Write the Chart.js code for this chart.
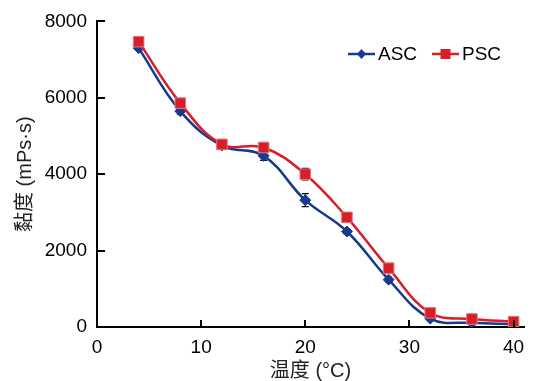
<!DOCTYPE html>
<html>
<head>
<meta charset="utf-8">
<script src="https://cdn.jsdelivr.net/npm/chart.js@4"></script>
<style>
  html, body { margin: 0; padding: 0; background: #fff; }
  #wrap { width: 534px; height: 381px; }
</style>
</head>
<body>
<div id="wrap"><canvas id="viscChart"></canvas></div>
<script>
// temperature (°C)
const temps = [4, 8, 12, 16, 20, 24, 28, 32, 36, 40];
// viscosity (mPs·s)
const ascValues = [7300, 5650, 4750, 4480, 3320, 2500, 1240, 220, 110, 80];
const pscValues = [7470, 5860, 4780, 4700, 4000, 2870, 1540, 370, 210, 140];
const ascErrors = [60, 80, 60, 120, 170, 60, 60, 40, 30, 20];
const pscErrors = [60, 80, 60, 80, 150, 60, 80, 40, 30, 20];
const xTicks = [0, 10, 20, 30, 40];
const yTicks = [0, 2000, 4000, 6000, 8000];
const seriesNames = ['ASC', 'PSC'];

const BLUE = '#173a8e';
const RED = '#d81e26';
const FONT = "'Liberation Sans', Arial, 'Noto Sans CJK SC', sans-serif";

function points(vals) {
    return temps.map((t, i) => ({ x: t, y: vals[i] }));
}

// error bars, drawn under the markers
const errorBars = {
    id: 'errorBars',
    beforeDatasetsDraw(chart) {
        const ctx = chart.ctx;
        const xs = chart.scales.x, ys = chart.scales.y;
        const sets = [[ascValues, ascErrors], [pscValues, pscErrors]];
        ctx.save();
        ctx.strokeStyle = '#000';
        ctx.lineWidth = 1.2;
        sets.forEach(([vals, errs]) => {
            vals.forEach((v, i) => {
                const px = xs.getPixelForValue(temps[i]);
                const top = ys.getPixelForValue(v + errs[i]);
                const bot = ys.getPixelForValue(v - errs[i]);
                ctx.beginPath();
                ctx.moveTo(px, top); ctx.lineTo(px, bot);
                ctx.moveTo(px - 3.5, top); ctx.lineTo(px + 3.5, top);
                ctx.moveTo(px - 3.5, bot); ctx.lineTo(px + 3.5, bot);
                ctx.stroke();
            });
        });
        ctx.restore();
    }
};

// tick marks pointing into the plot
const innerTicks = {
    id: 'innerTicks',
    afterDraw(chart) {
        const ctx = chart.ctx;
        const a = chart.chartArea;
        const xs = chart.scales.x, ys = chart.scales.y;
        ctx.save();
        ctx.strokeStyle = '#000';
        ctx.lineWidth = 2;
        ctx.beginPath();
        xTicks.slice(1).forEach(v => {
            const px = Math.round(xs.getPixelForValue(v));
            ctx.moveTo(px, a.bottom); ctx.lineTo(px, a.bottom - 7);
        });
        yTicks.slice(1).forEach(v => {
            const py = Math.round(ys.getPixelForValue(v));
            ctx.moveTo(a.left, py); ctx.lineTo(a.left + 8, py);
        });
        ctx.stroke();
        ctx.restore();
    }
};

// legend: line + marker + name, inside the plot, top right
const lineLegend = {
    id: 'lineLegend',
    afterDraw(chart) {
        const ctx = chart.ctx;
        const items = [
            { x: 348, color: BLUE, style: 'diamond', name: seriesNames[0] },
            { x: 432, color: RED, style: 'square', name: seriesNames[1] }
        ];
        const y = 54;
        ctx.save();
        items.forEach(it => {
            ctx.strokeStyle = it.color;
            ctx.lineWidth = 2.5;
            ctx.beginPath();
            ctx.moveTo(it.x, y); ctx.lineTo(it.x + 27, y);
            ctx.stroke();
            const cx = it.x + 13.5;
            ctx.fillStyle = it.color;
            ctx.beginPath();
            if (it.style === 'diamond') {
                ctx.moveTo(cx - 4.5, y); ctx.lineTo(cx, y - 5);
                ctx.lineTo(cx + 4.5, y); ctx.lineTo(cx, y + 5);
                ctx.closePath();
            } else {
                ctx.rect(cx - 5, y - 5, 10, 10);
            }
            ctx.fill();
            ctx.fillStyle = '#000';
            ctx.font = '19px ' + FONT;
            ctx.textBaseline = 'middle';
            ctx.fillText(it.name, it.x + 30, y + 1);
        });
        ctx.restore();
    }
};

const ctxVisc = document.getElementById('viscChart').getContext('2d');

new Chart(ctxVisc, {
    type: 'line',
    data: {
        datasets: [{
            label: seriesNames[0],
            data: points(ascValues),
            borderColor: BLUE,
            backgroundColor: BLUE,
            borderWidth: 2.5,
            pointStyle: 'rectRot',
            pointRadius: 5.5,
            pointBorderWidth: 1,
            pointBorderColor: BLUE,
            tension: 0.4,
            order: 1
        }, {
            label: seriesNames[1],
            data: points(pscValues),
            borderColor: RED,
            backgroundColor: RED,
            borderWidth: 2.5,
            pointStyle: 'rect',
            pointRadius: 7.5,
            pointBorderWidth: 1,
            pointBorderColor: '#e07a82',
            tension: 0.4,
            order: 0
        }]
    },
    options: {
        responsive: true,
        maintainAspectRatio: false,
        animation: false,
        layout: { padding: { left: 0, right: 10, top: 17, bottom: 0 } },
        plugins: {
            legend: { display: false },
            tooltip: { enabled: false }
        },
        scales: {
            x: {
                type: 'linear',
                min: 0,
                max: 41,
                afterBuildTicks: s => { s.ticks = xTicks.map(v => ({ value: v })); },
                afterFit: s => { s.height = 54; },
                grid: { display: true, drawOnChartArea: false, drawTicks: false },
                border: { display: true, color: '#000', width: 2 },
                ticks: { color: '#000', padding: 9, font: { size: 19, family: FONT }, callback: v => String(v) },
                title: {
                    display: true,
                    text: '温度 (°C)',
                    color: '#222',
                    padding: { top: 0, bottom: 0 },
                    font: { size: 20, family: FONT, lineHeight: 1 }
                }
            },
            y: {
                min: 0,
                max: 8000,
                afterBuildTicks: s => { s.ticks = yTicks.map(v => ({ value: v })); },
                afterFit: s => { s.width = 97; },
                grid: { display: true, drawOnChartArea: false, drawTicks: false },
                border: { display: true, color: '#000', width: 2 },
                ticks: { color: '#000', padding: 10, font: { size: 19, family: FONT }, callback: v => String(v) },
                title: {
                    display: true,
                    text: '黏度 (mPs·s)',
                    color: '#222',
                    padding: { top: 13, bottom: 0 },
                    font: { size: 20, family: FONT }
                }
            }
        }
    },
    plugins: [errorBars, innerTicks, lineLegend]
});
</script>
</body>
</html>
